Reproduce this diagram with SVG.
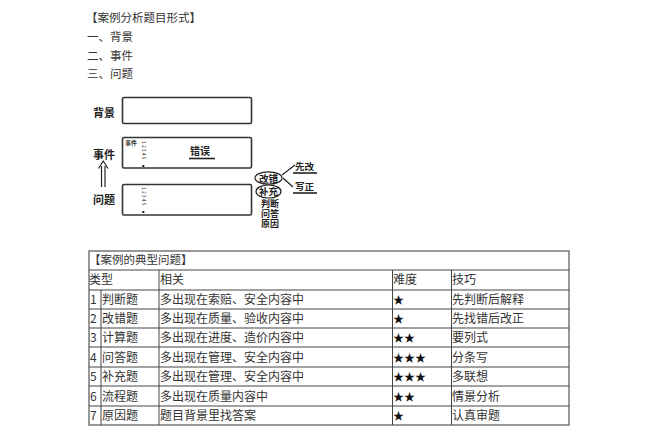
<svg xmlns="http://www.w3.org/2000/svg" width="660" height="441" viewBox="0 0 660 441">
<style>
text{font-family:"Noto Sans CJK SC","Noto Sans",sans-serif;fill:#333}
.t{font-size:11.5px}
.c{font-size:12px}
.d{font-size:11px;font-weight:bold;fill:#222}
.box{fill:#fff;stroke:#333;stroke-width:1.6}
.ln{stroke:#444;stroke-width:1;fill:none}
.ob{stroke:#777;stroke-width:1.5;fill:none}
.tiny{font-size:5px;fill:#333}
.ul{stroke:#222;stroke-width:1.6}
.con{stroke:#222;stroke-width:1.2;fill:none}
.star{font-size:11px;fill:#111}
.s{font-size:9px;font-weight:bold;fill:#222}
.e{font-size:9.5px;font-weight:bold;fill:#222}
</style>
<rect width="660" height="441" fill="#fff"/>
<g id="heading">
<text class="t" x="86" y="22">【案例分析题目形式】</text>
<text class="t" x="87" y="41">一、背景</text>
<text class="t" x="87" y="59.5">二、事件</text>
<text class="t" x="87" y="78">三、问题</text>
</g>
<g id="bg">
<text class="d" x="93" y="117">背景</text>
<rect class="box" x="122.5" y="97.5" width="129" height="26" rx="1.5"/>
</g>
<g id="event">
<text class="d" x="93" y="158.5">事件</text>
<rect class="box" x="122.5" y="137.5" width="129" height="30.5" rx="1.5"/>
<text x="125" y="144.5" style="font-size:6px;font-weight:bold">事件</text>
<text class="tiny" transform="rotate(90 142 141)" x="142" y="141">1 2 3 4 5</text>
<rect x="142.3" y="165" width="2" height="2" fill="#222"/>
<text class="d" x="190" y="155" style="font-size:10px">错误</text>
<line class="ul" x1="189" y1="158.5" x2="215" y2="158.5"/>
</g>
<g id="question">
<text class="d" x="93" y="204">问题</text>
<rect class="box" x="122.5" y="184.5" width="129" height="30.5" rx="1.5"/>
<text class="tiny" transform="rotate(90 142 187)" x="142" y="187">1 2 3 4 5</text>
<rect x="142.3" y="211" width="2" height="2" fill="#222"/>
</g>
<g id="types">
<ellipse cx="268.5" cy="178" rx="13.5" ry="6.2" fill="none" stroke="#222" stroke-width="1.2"/>
<text class="e" x="259" y="181.5">改错</text>
<ellipse cx="268.5" cy="191.5" rx="12.5" ry="6.5" fill="none" stroke="#222" stroke-width="1.2"/>
<text class="e" x="259" y="195">补充</text>
<text class="s"><tspan x="261" y="206.5">判断</tspan><tspan x="261" y="216.5">问答</tspan><tspan x="261" y="226.5">原因</tspan></text>
</g>
<g id="fix">
<text class="e" x="295" y="170">先改</text>
<line class="ul" x1="293" y1="173" x2="317" y2="173"/>
<text class="e" x="295" y="190">写正</text>
<line class="ul" x1="293" y1="193" x2="317" y2="193"/>
</g>
<g id="connectors">
<line class="con" x1="101.5" y1="166" x2="101.5" y2="187"/>
<line class="con" x1="105" y1="166" x2="105" y2="187"/>
<polyline class="con" points="98.5,168.5 103.2,161 108,168.5"/>
<line class="con" x1="282" y1="175" x2="295" y2="165"/>
<line class="con" x1="283" y1="178" x2="293" y2="187"/>
</g>
<g id="table">
<rect class="ob" x="89" y="251" width="480" height="174"/>
<g class="ln">
<line x1="89" y1="270" x2="569" y2="270"/>
<line x1="89" y1="290" x2="569" y2="290"/>
<line x1="89" y1="309" x2="569" y2="309"/>
<line x1="89" y1="328" x2="569" y2="328"/>
<line x1="89" y1="347" x2="569" y2="347"/>
<line x1="89" y1="367" x2="569" y2="367"/>
<line x1="89" y1="386" x2="569" y2="386"/>
<line x1="89" y1="406" x2="569" y2="406"/>
<line x1="101" y1="290" x2="101" y2="425"/>
<line x1="159" y1="270" x2="159" y2="425"/>
<line x1="392.5" y1="270" x2="392.5" y2="425"/>
<line x1="451.5" y1="270" x2="451.5" y2="425"/>
</g>
<text class="t" x="89" y="264">【案例的典型问题】</text>
<text class="c" x="89" y="284">类型</text>
<text class="c" x="160" y="284">相关</text>
<text class="c" x="393" y="284">难度</text>
<text class="c" x="452" y="284">技巧</text>
<text class="c" x="90" y="304">1</text><text class="c" x="102" y="304">判断题</text><text class="c" x="160" y="304">多出现在索赔、安全内容中</text><text class="star" x="393" y="304">★</text><text class="c" x="452" y="304">先判断后解释</text>
<text class="c" x="90" y="323">2</text><text class="c" x="102" y="323">改错题</text><text class="c" x="160" y="323">多出现在质量、验收内容中</text><text class="star" x="393" y="323">★</text><text class="c" x="452" y="323">先找错后改正</text>
<text class="c" x="90" y="342">3</text><text class="c" x="102" y="342">计算题</text><text class="c" x="160" y="342">多出现在进度、造价内容中</text><text class="star" x="393" y="342">★★</text><text class="c" x="452" y="342">要列式</text>
<text class="c" x="90" y="361.5">4</text><text class="c" x="102" y="361.5">问答题</text><text class="c" x="160" y="361.5">多出现在管理、安全内容中</text><text class="star" x="393" y="361.5">★★★</text><text class="c" x="452" y="361.5">分条写</text>
<text class="c" x="90" y="381">5</text><text class="c" x="102" y="381">补充题</text><text class="c" x="160" y="381">多出现在管理、安全内容中</text><text class="star" x="393" y="381">★★★</text><text class="c" x="452" y="381">多联想</text>
<text class="c" x="90" y="400.5">6</text><text class="c" x="102" y="400.5">流程题</text><text class="c" x="160" y="400.5">多出现在质量内容中</text><text class="star" x="393" y="400.5">★★</text><text class="c" x="452" y="400.5">情景分析</text>
<text class="c" x="90" y="420">7</text><text class="c" x="102" y="420">原因题</text><text class="c" x="160" y="420">题目背景里找答案</text><text class="star" x="393" y="420">★</text><text class="c" x="452" y="420">认真审题</text>
</g>
</svg>
